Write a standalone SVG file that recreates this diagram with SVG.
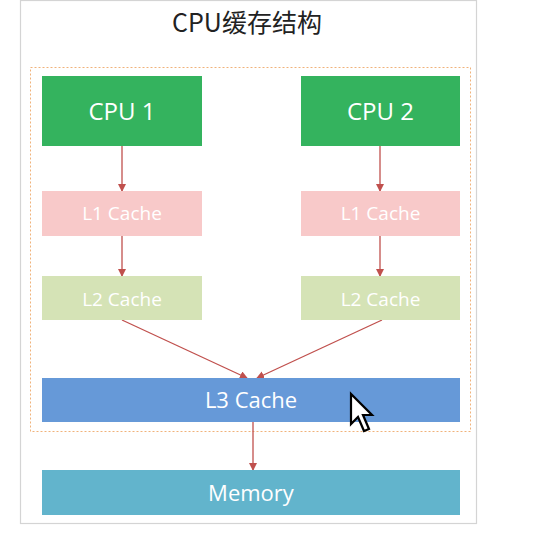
<svg xmlns="http://www.w3.org/2000/svg" width="538" height="550" viewBox="0 0 538 550">
<style>
.lbl{font-family:"Open Sans","Liberation Sans",sans-serif;fill:#ffffff;text-anchor:middle}
.big{font-size:24px}
.mid{font-size:22px}
.sm{font-size:19px}
.conn{stroke:#c0504d;stroke-width:1.3;fill:none;marker-end:url(#ah)}
</style>
<defs>
<marker id="ah" markerWidth="8" markerHeight="8" refX="7" refY="4" orient="auto" markerUnits="userSpaceOnUse">
<path d="M0,0 L8,4 L0,8 Z" fill="#c0504d"/>
</marker>
</defs>
<rect width="538" height="550" fill="#ffffff"/>
<rect x="20.5" y="0.5" width="456" height="523" fill="#ffffff" stroke="#d4d4d4" stroke-width="1.2"/>
<text x="247" y="32" font-family="'Noto Sans CJK SC','Open Sans',sans-serif" font-size="25" fill="#222222" text-anchor="middle">CPU缓存结构</text>
<rect x="30.5" y="67.5" width="440" height="364" fill="none" stroke="#f0b27a" stroke-width="1" stroke-dasharray="2,2"/>
<g id="connectors">
<line class="conn" x1="122" y1="146" x2="122" y2="191"/>
<line class="conn" x1="380" y1="146" x2="380" y2="191"/>
<line class="conn" x1="122" y1="236" x2="122" y2="276"/>
<line class="conn" x1="380" y1="236" x2="380" y2="276"/>
<line class="conn" x1="122" y1="320" x2="247" y2="378"/>
<line class="conn" x1="382" y1="320" x2="257" y2="378"/>
<line class="conn" x1="253" y1="422" x2="253" y2="470"/>
</g>
<g id="cpu1"><rect x="42" y="76" width="160" height="70" fill="#34b35e"/><text class="lbl big" x="122" y="120">CPU 1</text></g>
<g id="cpu2"><rect x="301" y="76" width="159" height="70" fill="#34b35e"/><text class="lbl big" x="380.5" y="120">CPU 2</text></g>
<g id="l1a"><rect x="42" y="191" width="160" height="45" fill="#f8c9c9"/><text class="lbl sm" x="122" y="220">L1 Cache</text></g>
<g id="l1b"><rect x="301" y="191" width="159" height="45" fill="#f8c9c9"/><text class="lbl sm" x="380.5" y="220">L1 Cache</text></g>
<g id="l2a"><rect x="42" y="276" width="160" height="44" fill="#d5e3b6"/><text class="lbl sm" x="122" y="306">L2 Cache</text></g>
<g id="l2b"><rect x="301" y="276" width="159" height="44" fill="#d5e3b6"/><text class="lbl sm" x="380.5" y="306">L2 Cache</text></g>
<g id="l3"><rect x="42" y="378" width="418" height="44" fill="#6699d8"/><text class="lbl mid" x="251" y="408">L3 Cache</text></g>
<g id="memory"><rect x="42" y="470" width="418" height="45" fill="#62b4cc"/><text class="lbl mid" x="251" y="501">Memory</text></g>
<path d="M351,394 L351,424 L358,417 L364,431 L369,429 L363,415 L372,415 Z" fill="#ffffff" stroke="#000000" stroke-width="2.2" stroke-linejoin="miter"/>
</svg>
